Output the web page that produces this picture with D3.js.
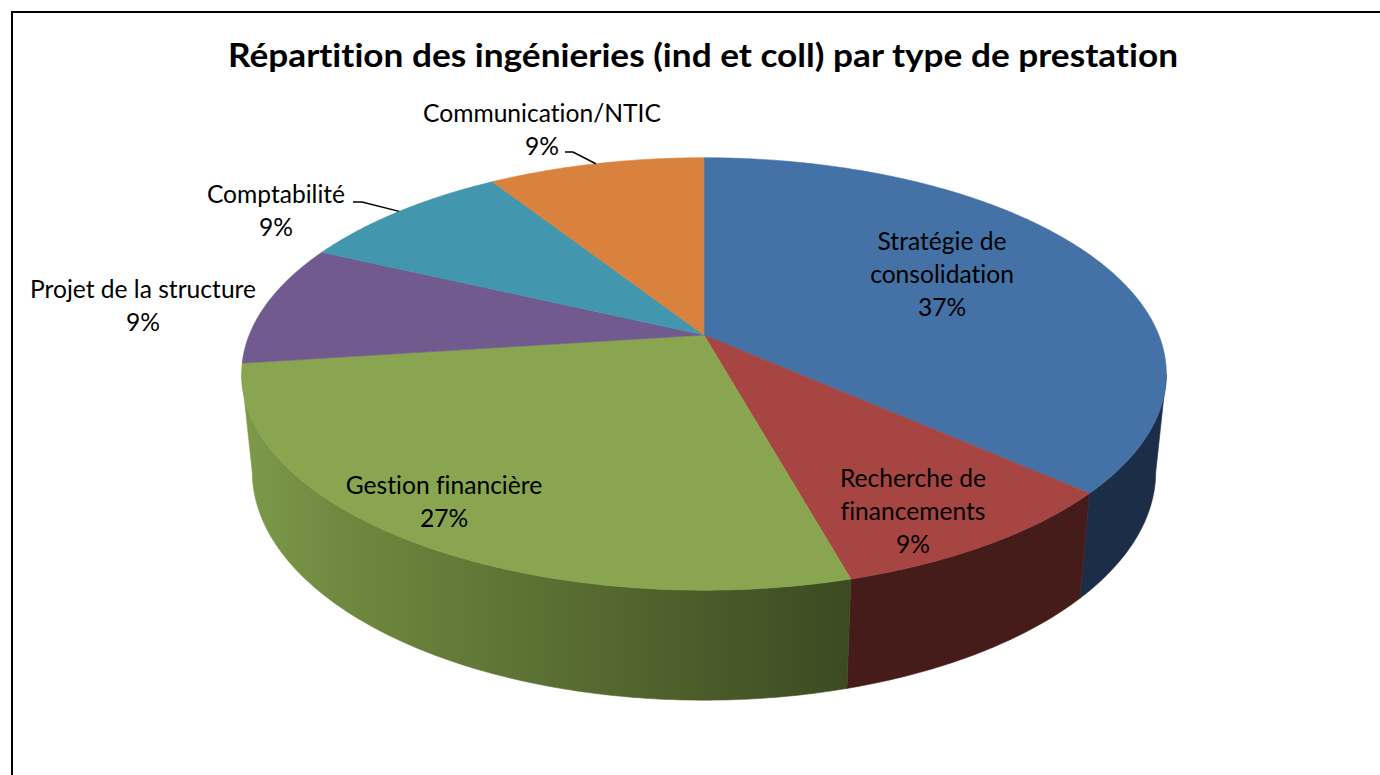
<!DOCTYPE html>
<html>
<head>
<meta charset="utf-8">
<script src="https://cdn.jsdelivr.net/npm/d3@7"></script>
<style>
  html, body { margin: 0; padding: 0; background: #fff; }
  text { font-family: "Lato", "Open Sans", sans-serif; fill: #000; font-variant-ligatures: none; font-feature-settings: "liga" 0; }
</style>
</head>
<body>
<svg id="chart" width="1380" height="775"></svg>
<script>
// data
const categories = [
  "Stratégie de consolidation",
  "Recherche de financements",
  "Gestion financière",
  "Projet de la structure",
  "Comptabilité",
  "Communication/NTIC"
];
const values = [36.6, 9.1, 27.2, 9.1, 9.0, 9.0];
const labelLines = [
  ["Stratégie de", "consolidation"],
  ["Recherche de", "financements"],
  ["Gestion financière"],
  ["Projet de la structure"],
  ["Comptabilité"],
  ["Communication/NTIC"]
];
const topColors  = ["#4472a6", "#a64542", "#89a54f", "#715a8e", "#4297af", "#d9823e"];
const sideColors = ["#1c2e47", "#461c1b", "url(#greenSide)", "#3a2e4a", "#22505c", "#74431f"];

const title = "Répartition des ingénieries (ind et coll) par type de prestation";

// label placement (center x, first baseline) and leader lines for outside labels
const labelPos = [
  { x: 942, y: 250 },
  { x: 913, y: 487 },
  { x: 444, y: 494 },
  { x: 143, y: 298 },
  { x: 276, y: 203 },
  { x: 542, y: 122 }
];
const leaders = [null, null, null, null, { x: 353, y: 202, kx: 362 }, { x: 565, y: 152, kx: 573 }];

// 3D projection of the disk (perspective camera looking down)
const CX = 704, CY = 335;
const sinA = 0.46, cosA = Math.sqrt(1 - sinA * sinA);
const dist = 4.93, focal = 2242, thick = 0.244;

function project(theta, r, y) {
  const x = r * Math.sin(theta), z = r * Math.cos(theta);
  const D = dist + z * cosA - y * sinA;
  const v = y * cosA + z * sinA;
  return [CX + focal * x / D, CY - focal * v / D];
}

const svg = d3.select("#chart");
const defs = svg.append("defs");
const grad = defs.append("linearGradient")
  .attr("id", "greenSide")
  .attr("gradientUnits", "userSpaceOnUse")
  .attr("x1", 245).attr("x2", 860).attr("y1", 0).attr("y2", 0);
grad.append("stop").attr("offset", 0).attr("stop-color", "#7c9a4a");
grad.append("stop").attr("offset", 0.15).attr("stop-color", "#70893f");
grad.append("stop").attr("offset", 1).attr("stop-color", "#3a4921");

// border
svg.append("rect")
  .attr("x", 12).attr("y", 12)
  .attr("width", 1420).attr("height", 820)
  .attr("fill", "none").attr("stroke", "#000").attr("stroke-width", 2);

const pie = d3.pie().sort(null).value(d => d);
const arcs = pie(values);

const line = d3.line();
const steps = a => Math.max(4, Math.ceil((a[1] - a[0]) / 0.01));

// side walls: only the front-facing part of the rim
const silh = Math.acos(-cosA / dist);
const wallRange = [silh, 2 * Math.PI - silh];
const walls = svg.append("g");
arcs.forEach((a, i) => {
  const t0 = Math.max(a.startAngle, wallRange[0]);
  const t1 = Math.min(a.endAngle, wallRange[1]);
  if (t1 <= t0) return;
  const n = steps([t0, t1]);
  const topPts = d3.range(n + 1).map(k => project(t0 + (t1 - t0) * k / n, 1, 0));
  const botPts = d3.range(n + 1).map(k => project(t0 + (t1 - t0) * k / n, 1, -thick)).reverse();
  walls.append("path")
    .attr("d", line(topPts.concat(botPts)) + "Z")
    .attr("fill", sideColors[i])
    .attr("stroke", sideColors[i])
    .attr("stroke-width", 0.6);
});

// top faces
const tops = svg.append("g");
arcs.forEach((a, i) => {
  const n = steps([a.startAngle, a.endAngle]);
  const pts = [project(0, 0, 0)].concat(
    d3.range(n + 1).map(k => project(a.startAngle + (a.endAngle - a.startAngle) * k / n, 1, 0))
  );
  tops.append("path")
    .attr("d", line(pts) + "Z")
    .attr("fill", topColors[i])
    .attr("stroke", topColors[i])
    .attr("stroke-width", 0.6);
});

// title
svg.append("text")
  .attr("x", 703).attr("y", 67)
  .attr("text-anchor", "middle")
  .attr("font-size", 32)
  .attr("font-weight", "bold")
  .attr("textLength", 950)
  .attr("lengthAdjust", "spacingAndGlyphs")
  .text(title);

// data labels
const fmt = d3.format(".0%");
const total = d3.sum(values);
const lh = 33;
arcs.forEach((a, i) => {
  const lines = labelLines[i].concat([fmt(values[i] / total)]);
  const t = svg.append("text")
    .attr("text-anchor", "middle")
    .attr("font-size", 24.6);
  lines.forEach((s, k) => {
    t.append("tspan").attr("x", labelPos[i].x).attr("y", labelPos[i].y + k * lh).text(s);
  });
  const ld = leaders[i];
  if (ld) {
    const end = project((a.startAngle + a.endAngle) / 2, 1, 0);
    svg.append("path")
      .attr("d", line([[ld.x, ld.y], [ld.kx, ld.y], end]))
      .attr("fill", "none").attr("stroke", "#000").attr("stroke-width", 1.5);
  }
});
</script>
</body>
</html>
